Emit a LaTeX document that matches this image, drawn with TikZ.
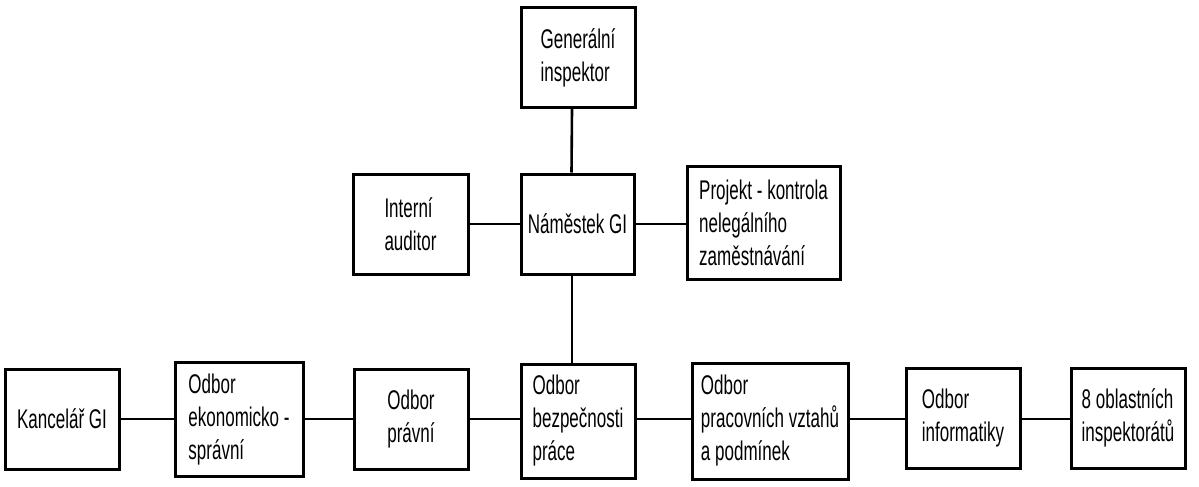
\documentclass[tikz,border=0pt]{standalone}
\usepackage{fontspec}
\setmainfont{Liberation Sans}[FakeStretch=0.63]
\tikzset{
  orgbox/.style = {draw=black, line width=1.5pt, align=left, inner sep=2pt,
    minimum width=57pt, minimum height=50pt, font=\fontsize{13.5}{16.5}\selectfont},
  tallbox/.style = {orgbox, minimum height=57pt},
  orgline/.style = {draw=black, line width=1.3pt}
}
\begin{document}
\begin{tikzpicture}[x=0.5pt,y=-0.5pt]
\useasboundingbox (0,0) rectangle (1199,487);
% top part
\node [orgbox] (gi) at (578,57.5) {Generální\\inspektor};
\node [orgbox, minimum width=56.5pt] (nam) at (577.5,224) {Náměstek GI};
\node [orgbox, minimum width=57.5pt] (int) at (410.5,224) {Interní\\auditor};
\node [tallbox, minimum width=76.5pt, minimum height=56.5pt] (proj) at (763.5,223) {Projekt - kontrola\\nelegálního\\zaměstnávání};
% bottom row
\node [orgbox] (kanc) at (62,419) {Kancelář GI};
\node [tallbox, minimum width=64pt] (ekon) at (239,419.5) {Odbor\\ekonomicko -\\správní};
\node [orgbox] (prav) at (411,419.5) {Odbor\\právní};
\node [tallbox] (bezp) at (578,421) {Odbor\\bezpečnosti\\práce};
\node [tallbox, minimum width=78pt, minimum height=58pt] (prac) at (770,421) {Odbor\\pracovních vztahů\\a podmínek};
\node [orgbox] (info) at (963,418) {Odbor\\informatiky};
\node [orgbox] (obl) at (1128,418) {8 oblastních\\inspektorátů};
% connectors
\draw [orgline] ([xshift=-3pt]gi.south) -- ([xshift=-3pt]nam.north);
\draw [orgline] ([xshift=-2.75pt]nam.south) -- ([xshift=-3pt]bezp.north);
\draw [orgline] (int.east) -- (nam.west);
\draw [orgline] (nam.east) -- (nam.east -| proj.west);
\draw [orgline] (kanc.east) -- (kanc.east -| ekon.west);
\draw [orgline] (kanc.east -| ekon.east) -- (kanc.east -| prav.west);
\draw [orgline] (kanc.east -| prav.east) -- (kanc.east -| bezp.west);
\draw [orgline] (kanc.east -| bezp.east) -- (kanc.east -| prac.west);
\draw [orgline] (kanc.east -| prac.east) -- (kanc.east -| info.west);
\draw [orgline] (kanc.east -| info.east) -- (kanc.east -| obl.west);
\end{tikzpicture}
\end{document}
